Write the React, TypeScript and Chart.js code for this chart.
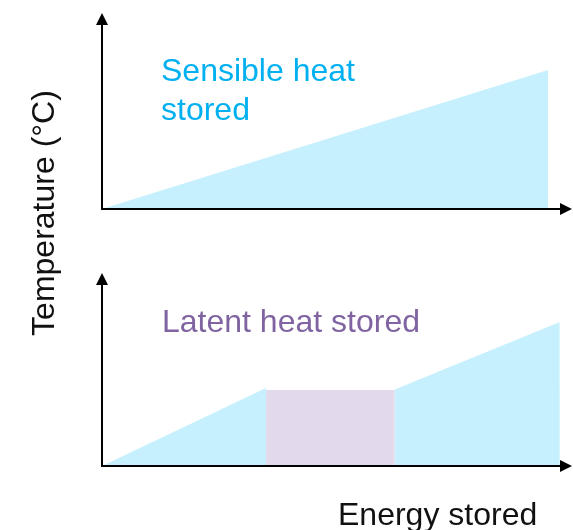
import React, { useEffect, useRef } from "react";
import { Chart, registerables } from "chart.js";

Chart.register(...registerables);

// Top panel: sensible heat (energy vs temperature)
const SENSIBLE_X = [0, 9.49];
const SENSIBLE_Y = [0, 7.09];

// Bottom panel: latent heat (solid heating, phase change plateau, liquid heating)
const SOLID_X = [0, 3.49];
const SOLID_Y = [0, 4.04];
const PLATEAU_X = [3.49, 6.23];
const PLATEAU_Y = [3.94, 3.94];
const LIQUID_X = [6.23, 9.74];
const LIQUID_Y = [3.96, 7.46];

const AXIS_MIN = 0;
const AXIS_MAX = 10;

const SENSIBLE_LABEL = ["Sensible heat", "stored"];
const LATENT_LABEL = "Latent heat stored";
const Y_TITLE = "Temperature (°C)";
const X_TITLE = "Energy stored";

const CYAN_FILL = "#C6F0FE";
const PURPLE_FILL = "#E2DAEC";
const CYAN_TEXT = "#00B0F0";
const PURPLE_TEXT = "#8064A2";
const FONT = '32px "Liberation Sans", Arial, sans-serif';

const W = 573;
const H = 530;

function pts(xs: number[], ys: number[]) {
  return xs.map((x, i) => ({ x, y: ys[i] }));
}

const arrowPlugin = {
  id: "arrows",
  afterDraw(chart: any) {
    const { ctx, chartArea, scales } = chart;
    const ox = scales.x.getPixelForValue(0);
    const oy = scales.y.getPixelForValue(0);
    const al = 11;
    const aw = 6;
    ctx.save();
    ctx.strokeStyle = "#000";
    ctx.fillStyle = "#000";
    ctx.lineWidth = 2;
    ctx.beginPath();
    ctx.moveTo(ox, oy);
    ctx.lineTo(ox, chartArea.top + al);
    ctx.moveTo(ox - 1, oy);
    ctx.lineTo(chartArea.right - al, oy);
    ctx.stroke();
    ctx.beginPath();
    ctx.moveTo(ox, chartArea.top);
    ctx.lineTo(ox - aw, chartArea.top + al + 1);
    ctx.lineTo(ox + aw, chartArea.top + al + 1);
    ctx.closePath();
    ctx.fill();
    ctx.beginPath();
    ctx.moveTo(chartArea.right, oy);
    ctx.lineTo(chartArea.right - al - 1, oy - aw);
    ctx.lineTo(chartArea.right - al - 1, oy + aw);
    ctx.closePath();
    ctx.fill();
    ctx.restore();
  },
};

function makeTextPlugin(draw: (ctx: CanvasRenderingContext2D) => void) {
  return {
    id: "texts",
    afterDraw(chart: any) {
      const ctx = chart.ctx as CanvasRenderingContext2D;
      ctx.save();
      ctx.font = FONT;
      ctx.textBaseline = "alphabetic";
      draw(ctx);
      ctx.restore();
    },
  };
}

function areaDataset(xs: number[], ys: number[], color: string) {
  return {
    data: pts(xs, ys),
    fill: "origin",
    backgroundColor: color,
    borderWidth: 0,
    borderColor: "rgba(0,0,0,0)",
    pointRadius: 0,
    tension: 0,
  };
}

function baseOptions(padding: any) {
  return {
    responsive: false,
    animation: false,
    devicePixelRatio: 1,
    layout: { padding },
    plugins: { legend: { display: false }, tooltip: { enabled: false }, title: { display: false } },
    events: [],
    scales: {
      x: { type: "linear", min: AXIS_MIN, max: AXIS_MAX, display: false },
      y: { type: "linear", min: AXIS_MIN, max: AXIS_MAX, display: false },
    },
  };
}

export default function App() {
  const topRef = useRef<HTMLCanvasElement>(null);
  const botRef = useRef<HTMLCanvasElement>(null);

  useEffect(() => {
    const top = new Chart(topRef.current as HTMLCanvasElement, {
      type: "line",
      data: { datasets: [areaDataset(SENSIBLE_X, SENSIBLE_Y, CYAN_FILL) as any] },
      options: baseOptions({ left: 102, right: 1, top: 13, bottom: H - 209 }) as any,
      plugins: [
        arrowPlugin,
        makeTextPlugin((ctx) => {
          ctx.fillStyle = CYAN_TEXT;
          ctx.textAlign = "left";
          ctx.fillText(SENSIBLE_LABEL[0], 161, 81);
          ctx.fillText(SENSIBLE_LABEL[1], 161, 120);
        }),
      ],
    });
    const bot = new Chart(botRef.current as HTMLCanvasElement, {
      type: "line",
      data: {
        datasets: [
          areaDataset(SOLID_X, SOLID_Y, CYAN_FILL) as any,
          areaDataset(PLATEAU_X, PLATEAU_Y, PURPLE_FILL) as any,
          areaDataset(LIQUID_X, LIQUID_Y, CYAN_FILL) as any,
        ],
      },
      options: baseOptions({ left: 102, right: 1, top: 273, bottom: H - 466 }) as any,
      plugins: [
        arrowPlugin,
        makeTextPlugin((ctx) => {
          ctx.fillStyle = PURPLE_TEXT;
          ctx.textAlign = "left";
          ctx.fillText(LATENT_LABEL, 162, 332);
          ctx.fillStyle = "#111";
          ctx.fillText(X_TITLE, 338, 525);
          ctx.save();
          ctx.translate(54, 213);
          ctx.rotate(-Math.PI / 2);
          ctx.textAlign = "center";
          ctx.fillText(Y_TITLE, 0, 0);
          ctx.restore();
        }),
      ],
    });
    return () => {
      top.destroy();
      bot.destroy();
    };
  }, []);

  return (
    <div style={{ position: "absolute", left: 0, top: 0, width: W, height: H, background: "#fff" }}>
      <canvas ref={topRef} width={W} height={H} style={{ position: "absolute", left: 0, top: 0 }} />
      <canvas ref={botRef} width={W} height={H} style={{ position: "absolute", left: 0, top: 0 }} />
    </div>
  );
}
